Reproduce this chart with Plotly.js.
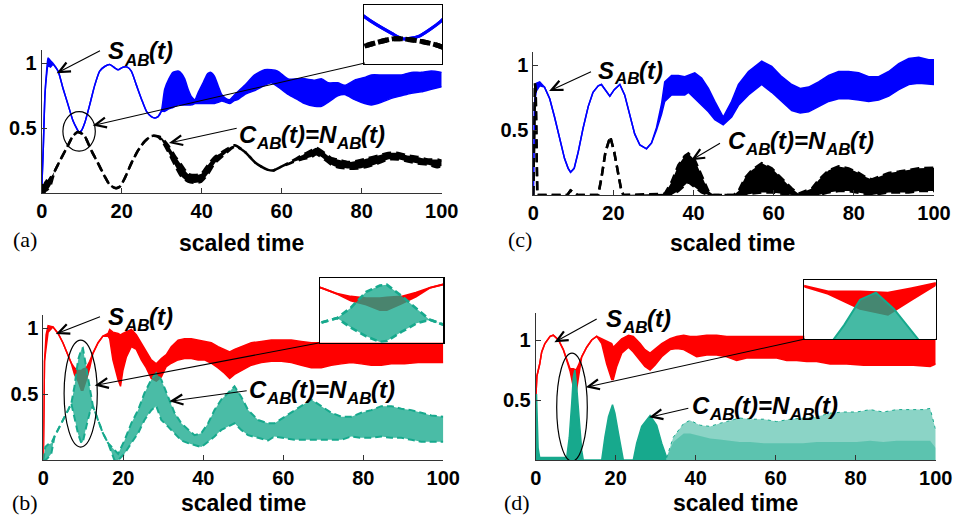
<!DOCTYPE html>
<html><head><meta charset="utf-8">
<script src="https://cdn.plot.ly/plotly-3.0.1.min.js"></script>
<style>html,body{margin:0;padding:0;background:#fff;}#chart{width:958px;height:517px;}</style>
</head><body><div id="chart"></div>
<script>
// ---------- DATA ----------
const xTicks = [0, 20, 40, 60, 80, 100];
const yTicks = [0.5, 1];
const yTickText = ['0.5', '1'];

// Panel (a): S_AB (blue) envelope (hi/lo), C_AB (black dashed) envelope
const tSa = [0,0.4,0.8,1.2,1.6,2.2,2.8,4.1,5.3,6.6,7.8,8.9,9.3,9.9,10.75,12,13.25,14.5,15.75,17,18.25,19.1,20.3,21.4,22.4,23.7,25,26.2,27.4,28.3,29.1,29.9,30.75,31.8,32.8,34.1,35,35.75,36.6,37.5,38.3,39.2,40.5,41.5,42.3,43.2,44.2,45,46,47,48,49,50.75,53.25,55.75,57.4,59,61.6,64,65.75,68.25,70,71.6,74,75.75,78.25,80.75,82.4,84.9,87.4,89.9,92.4,94.9,97.4,100];
const sAhi = [0.02,0.35,0.75,0.93,1.04,1.02,1.00,0.94,0.81,0.68,0.56,0.49,0.47,0.48,0.54,0.68,0.83,0.94,0.975,0.99,0.965,0.95,0.97,0.97,0.94,0.83,0.72,0.63,0.59,0.58,0.59,0.63,0.80,0.88,0.93,0.94,0.92,0.88,0.80,0.74,0.72,0.78,0.86,0.92,0.93,0.90,0.82,0.76,0.73,0.72,0.75,0.78,0.83,0.91,0.95,0.95,0.94,0.88,0.88,0.88,0.87,0.88,0.85,0.85,0.83,0.87,0.89,0.91,0.91,0.91,0.91,0.93,0.93,0.94,0.93];
const sAlo = [0.02,0.35,0.75,0.90,0.98,0.97,0.99,0.94,0.81,0.68,0.56,0.49,0.47,0.48,0.54,0.68,0.83,0.94,0.975,0.99,0.965,0.95,0.97,0.97,0.94,0.83,0.72,0.63,0.59,0.58,0.59,0.63,0.63,0.65,0.66,0.68,0.68,0.68,0.68,0.68,0.69,0.69,0.69,0.69,0.69,0.69,0.70,0.71,0.70,0.69,0.71,0.72,0.76,0.79,0.83,0.85,0.82,0.76,0.72,0.69,0.67,0.67,0.70,0.75,0.76,0.72,0.69,0.68,0.70,0.73,0.75,0.77,0.78,0.80,0.82];
const tCa = [0,0.5,1.0,1.5,2.2,3.25,4.9,6.6,7.8,8.9,9.3,10.0,10.75,12.4,14.1,15.75,17,18.4,19.5,20.75,22.4,24.1,25.75,27.4,28.7,29.9,31.6,33.25,34.9,36.6,38.25,39.9,41.6,43.25,45.75,48.25,50.75,53.25,54.9,56.6,57.8,59.9,62.4,64.9,67.4,68.7,70.75,72.4,74,76.6,79,81.6,84.1,86.6,89.1,91.6,94,96.6,99,100];
const cAhi = [0,0.08,0.10,0.09,0.12,0.17,0.27,0.37,0.44,0.47,0.47,0.46,0.44,0.33,0.23,0.13,0.065,0.04,0.05,0.115,0.23,0.33,0.40,0.44,0.44,0.43,0.37,0.29,0.22,0.15,0.14,0.15,0.22,0.28,0.33,0.37,0.32,0.24,0.205,0.18,0.175,0.205,0.245,0.29,0.33,0.35,0.31,0.27,0.26,0.24,0.25,0.27,0.29,0.31,0.31,0.29,0.28,0.26,0.26,0.25];
const cAlo = [0,0,0.02,0.03,0.06,0.17,0.27,0.37,0.44,0.47,0.47,0.46,0.44,0.33,0.23,0.13,0.065,0.04,0.05,0.115,0.23,0.33,0.40,0.44,0.44,0.41,0.32,0.22,0.13,0.09,0.08,0.09,0.15,0.23,0.30,0.36,0.32,0.24,0.205,0.18,0.175,0.205,0.235,0.26,0.28,0.30,0.26,0.22,0.20,0.19,0.19,0.205,0.23,0.26,0.26,0.245,0.23,0.22,0.20,0.21];

// Panel (c)
const tSc = [0,0.1,0.3,0.75,1.6,2.8,4.1,5.3,6.6,7.8,8.7,9.3,10.2,11.2,12.4,13.7,14.9,16.2,17,18,19.1,20.2,21.6,22.8,24.1,25.3,26.6,28.25,29.5,30.75,32,32.8,34.5,36.2,37.8,38.7,40.3,42,43.7,45.3,47.4,49.5,51.2,53.7,57,59.5,62,64.5,66.6,68.7,71.2,73.7,76.2,78.7,81.2,83.7,86.2,88.7,91.2,93.7,96.2,98.7,100];
const sChi = [0,0.40,0.70,0.86,0.87,0.83,0.74,0.60,0.44,0.28,0.205,0.175,0.205,0.33,0.51,0.68,0.79,0.84,0.85,0.81,0.76,0.81,0.85,0.77,0.615,0.47,0.385,0.355,0.40,0.52,0.70,0.87,0.92,0.92,0.91,0.92,0.94,0.90,0.82,0.72,0.60,0.72,0.85,0.95,1.03,0.99,0.91,0.85,0.82,0.83,0.87,0.92,0.95,0.95,0.94,0.91,0.91,0.95,1.01,1.05,1.06,1.04,1.04];
const sClo = [0,0.40,0.70,0.80,0.84,0.83,0.74,0.60,0.44,0.28,0.205,0.175,0.205,0.33,0.51,0.68,0.79,0.84,0.85,0.81,0.76,0.81,0.85,0.77,0.615,0.47,0.385,0.355,0.40,0.50,0.62,0.72,0.77,0.77,0.77,0.79,0.74,0.69,0.64,0.58,0.54,0.60,0.69,0.77,0.85,0.79,0.72,0.65,0.63,0.64,0.68,0.72,0.74,0.74,0.73,0.72,0.73,0.76,0.81,0.85,0.86,0.85,0.85];
const tCc = [0,0.2,0.4,0.6,0.8,1.0,8.5,9.3,10.2,11,16.2,17,18,19.2,20.2,21.2,22,22.5,32.8,34.5,36.2,37.8,38.7,40.3,42,43.7,45,50,51.2,52.8,54.5,57,59.5,62,64.5,66.2,67.8,69.5,71.2,73.7,76.2,78.7,81.2,82.8,84.5,86.2,88.7,91.2,93.7,96.2,100];
const cChi = [0,0.5,0.86,0.80,0.3,0,0,0.035,0.02,0,0,0.13,0.33,0.45,0.33,0.15,0.03,0,0.01,0.10,0.23,0.30,0.32,0.27,0.15,0.03,0,0,0.03,0.13,0.19,0.245,0.205,0.13,0.05,0.01,0.03,0.05,0.115,0.19,0.22,0.205,0.17,0.14,0.12,0.14,0.17,0.18,0.19,0.205,0.21];
const cClo = [0,0.5,0.86,0.80,0.3,0,0,0.035,0.02,0,0,0.13,0.33,0.45,0.33,0.15,0.03,0,0,0,0.03,0.08,0.10,0.06,0.02,0,0,0,0,0,0.01,0.02,0.02,0.01,0,0,0,0,0,0.02,0.03,0.03,0.02,0.01,0,0.01,0.02,0.02,0.02,0.03,0.03];

// Panel (b)
const tSb = [0,0.15,0.3,0.7,1.2,2.4,3.7,4.9,6.2,7.0,7.8,8.7,9.5,9.9,10.75,11.6,12.4,13.7,14.9,16.2,16.6,17.4,18.7,19.3,19.9,20.75,22,23.25,24.5,25.75,27,28.25,29.5,30.75,32,33.7,35.3,37,38.7,40.3,42,43.7,45.3,46.6,47.8,49.5,52,54.5,57,59.5,62,64.5,67,69.5,72,74.5,77,79.5,82,84.5,87,90.3,93.7,97,100];
const sBhi = [0,0.5,0.75,0.95,1.02,1.01,0.96,0.89,0.80,0.735,0.70,0.68,0.68,0.69,0.70,0.75,0.81,0.89,0.94,0.96,0.99,0.97,0.96,0.95,0.96,0.97,0.99,0.95,0.89,0.82,0.76,0.73,0.77,0.80,0.86,0.91,0.92,0.92,0.91,0.90,0.89,0.86,0.84,0.82,0.84,0.86,0.89,0.90,0.91,0.91,0.91,0.90,0.89,0.89,0.90,0.90,0.90,0.89,0.89,0.90,0.90,0.89,0.89,0.89,0.89];
const sBlo = [0,0.5,0.75,0.85,0.97,1.01,0.96,0.89,0.80,0.735,0.65,0.60,0.53,0.53,0.61,0.70,0.81,0.89,0.94,0.94,0.92,0.76,0.61,0.56,0.68,0.78,0.86,0.84,0.76,0.70,0.62,0.60,0.63,0.71,0.735,0.76,0.77,0.77,0.76,0.76,0.735,0.70,0.66,0.62,0.65,0.68,0.72,0.74,0.75,0.75,0.74,0.72,0.70,0.70,0.72,0.73,0.74,0.73,0.72,0.72,0.73,0.73,0.74,0.74,0.74];
const tCb = [0,0.5,1.2,2.0,2.8,3.7,4.9,6.2,7.0,7.8,8.7,9.5,9.9,10.75,11.6,12.4,13.7,14.9,16.2,17.8,18.7,20.3,22,23.7,25.3,27,28.25,29.5,31.2,32.8,34.5,36.2,37.8,39.5,41.2,42.8,44.5,46.2,47.8,49.5,51.2,53.7,56.2,57.8,60.3,62.8,65.3,67,69.5,72,74.5,77,79.5,82,84.5,87,89.5,92,94.5,97,100];
const cBhi = [0,0.10,0.12,0.13,0.18,0.23,0.305,0.38,0.43,0.56,0.76,0.84,0.85,0.71,0.56,0.41,0.305,0.205,0.13,0.08,0.05,0.15,0.28,0.38,0.51,0.61,0.66,0.61,0.48,0.36,0.28,0.23,0.19,0.205,0.28,0.38,0.46,0.51,0.56,0.48,0.38,0.305,0.28,0.28,0.33,0.38,0.43,0.46,0.41,0.36,0.33,0.33,0.36,0.38,0.41,0.41,0.39,0.38,0.36,0.34,0.33];
const cBlo = [0,0,0.02,0.05,0.18,0.23,0.305,0.38,0.43,0.31,0.20,0.13,0.14,0.255,0.36,0.41,0.305,0.205,0.13,0.0,0.0,0.05,0.13,0.205,0.305,0.38,0.41,0.305,0.255,0.205,0.15,0.13,0.115,0.10,0.14,0.18,0.23,0.255,0.28,0.23,0.19,0.17,0.15,0.18,0.17,0.155,0.155,0.155,0.155,0.155,0.155,0.18,0.17,0.17,0.18,0.17,0.17,0.155,0.14,0.14,0.14];

// Panel (d)
const tSd = [0,0.3,1.0,1.5,2.3,3.6,4.4,5.7,6.9,7.75,8.6,9.4,10.1,10.7,11.5,12.75,14,15.25,16.5,17.75,19,19.4,20.25,21.5,23.2,24.4,26.1,27.3,28.6,29.8,31.5,33.6,35.25,37,38.6,40.25,42.75,45.25,47.75,50.25,52.75,55.25,57.75,60.25,62.75,65.25,67.75,70.25,73.6,77.75,82,86,90.25,94.4,98.6,100];
const sDhi = [0.50,0.70,0.80,0.90,0.97,1.03,1.04,1.0,0.92,0.83,0.76,0.76,0.75,0.79,0.86,0.94,1.0,1.03,1.01,0.99,0.97,0.94,0.97,1.01,1.04,1.03,0.97,0.92,0.89,0.92,0.97,1.01,1.03,1.04,1.03,1.03,1.04,1.04,1.03,1.03,1.03,1.03,1.03,1.03,1.03,1.03,1.03,1.01,1.01,1.01,1.01,1.01,1.01,1.01,1.01,1.01];
const sDlo = [0.50,0.70,0.80,0.90,0.97,1.03,1.04,1.0,0.92,0.83,0.74,0.61,0.56,0.69,0.86,0.94,1.0,1.03,0.97,0.80,0.67,0.67,0.78,0.89,0.94,0.90,0.83,0.78,0.75,0.79,0.86,0.92,0.93,0.92,0.89,0.86,0.875,0.875,0.86,0.83,0.85,0.85,0.85,0.85,0.83,0.83,0.82,0.82,0.80,0.80,0.79,0.79,0.79,0.79,0.78,0.80];
const tCd = [0,0.2,0.6,1.0,7.75,8.4,9.0,9.4,9.8,10.25,10.9,11.5,11.9,16.5,17.3,18.2,19.2,19.8,20.7,21.5,21.9,24.4,25.25,26.5,28.6,30.25,31.5,32.75];
const cDhi = [0,0.55,0.10,0.02,0.02,0.19,0.47,0.69,0.75,0.61,0.33,0.08,0,0,0.19,0.36,0.46,0.39,0.22,0.055,0,0,0.14,0.28,0.37,0.29,0.14,0.02];
const tCdSpk = [32.75,34.4,37,38.6,41.1,43.6,46,48.6,51,53.6,57,60.25,63.6,66.9,70.25,73.6,76.9,80.25,83.6,86.9,90.25,93.6,96.9,98.6,100];
const cDspk = [0.02,0.19,0.305,0.33,0.29,0.28,0.305,0.33,0.35,0.34,0.34,0.32,0.34,0.35,0.36,0.39,0.40,0.40,0.42,0.40,0.42,0.42,0.42,0.43,0.25];
const cDdense = [0.02,0.15,0.22,0.22,0.2,0.18,0.17,0.16,0.15,0.15,0.14,0.14,0.14,0.14,0.15,0.15,0.15,0.15,0.16,0.15,0.16,0.16,0.16,0.16,0.1];

// ---------- DRAWING ----------
const W = 958, H = 517;
const px = v => v / W;
const py = v => 1 - v / H;
const BLUE = '#0000ff', RED = '#ff0000', TEAL = '#17a98d', BLACK = '#000000';
const FONT = 'Liberation Sans, Arial, sans-serif';

function band(t, hi, lo, o) {
  const line = {color: o.color, width: o.width, dash: o.dash || 'solid', shape: o.shape || 'linear', smoothing: 0.6};
  return [
    {x: t, y: hi, xaxis: o.xa, yaxis: o.ya, mode: 'lines', line: line, hoverinfo: 'skip'},
    {x: t, y: lo, xaxis: o.xa, yaxis: o.ya, mode: 'lines', line: line, hoverinfo: 'skip',
     fill: 'tonexty', fillcolor: o.fill || o.color}
  ];
}
function area(t, y, o) {
  return {x: t, y: y, xaxis: o.xa, yaxis: o.ya, mode: 'lines', hoverinfo: 'skip',
    line: {color: o.color, width: o.width, dash: o.dash || 'solid'}, fill: 'tozeroy', fillcolor: o.fill || o.color};
}

const DASHK = '9px,5px';
const DASHT = '7px,4px';
const TEALA = 'rgba(23,169,141,0.78)';
const TEALS = 'rgba(23,169,141,0.5)';
const TEALD = 'rgba(23,169,141,0.4)';

function panelA(xa, ya, k) {
  return [
    ...band(tSa, sAhi, sAlo, {xa, ya, color: BLUE, width: 1.5 * k, shape: 'spline'}),
    ...band(tCa, cAhi, cAlo, {xa, ya, color: BLACK, width: 2.5 * k, dash: DASHK, shape: 'spline'})
  ];
}
function panelB(xa, ya, k) {
  return [
    ...band(tSb, sBhi, sBlo, {xa, ya, color: RED, width: 1.5 * k}),
    ...band(tCb, cBhi, cBlo, {xa, ya, color: TEAL, width: 2 * k, dash: DASHT, fill: TEALA})
  ];
}
function panelD(xa, ya, k, alpha) {
  return [
    ...band(tSd, sDhi, sDlo, {xa, ya, color: RED, width: 1.5 * k}),
    area(tCd, cDhi, {xa, ya, color: TEAL, width: 1.5 * k, fill: alpha || TEAL}),
    area(tCdSpk, cDspk, {xa, ya, color: TEAL, width: 1 * k, dash: '3px,4px', fill: TEALS}),
    area(tCdSpk, cDdense, {xa, ya, color: 'rgba(0,0,0,0)', width: 0, fill: TEALD})
  ];
}

const traces = [
  ...panelA('x', 'y', 1),
  ...band(tSc, sChi, sClo, {xa: 'x2', ya: 'y2', color: BLUE, width: 1.5}),
  ...band(tCc, cChi, cClo, {xa: 'x2', ya: 'y2', color: BLACK, width: 2.5, dash: DASHK}),
  ...panelB('x3', 'y3', 1),
  ...panelD('x4', 'y4', 1),
  ...panelA('x5', 'y5', 2),
  ...panelB('x6', 'y6', 1.3),
  ...panelD('x7', 'y7', 1.3, 'rgba(23,169,141,0.8)')
];

const tickfont = {family: FONT, size: 20, weight: 'bold', color: '#000'};
function mainX(l, r, anchor) {
  return {domain: [px(l), px(r)], anchor: anchor, range: [0, 100], showline: true, linecolor: '#333', linewidth: 1,
    ticks: 'inside', ticklen: 5, tickwidth: 1, tickcolor: '#333', tickvals: xTicks, ticktext: xTicks.map(String),
    tickfont: tickfont, showgrid: false, zeroline: false, fixedrange: true};
}
function mainY(b, t, top, anchor) {
  return {domain: [py(b), py(t)], anchor: anchor, range: [0, top], showline: true, linecolor: '#333', linewidth: 1,
    ticks: 'inside', ticklen: 5, tickwidth: 1, tickcolor: '#333', tickvals: yTicks, ticktext: yTickText,
    tickfont: tickfont, showgrid: false, zeroline: false, fixedrange: true};
}
function insetAx(a, b, range, anchor, isY) {
  return {domain: isY ? [py(b), py(a)] : [px(a), px(b)], anchor: anchor, range: range, showline: true, mirror: true,
    linecolor: '#000', linewidth: 1.2, ticks: '', showticklabels: false, showgrid: false, zeroline: false, fixedrange: true};
}

function label(text, x, y, font, xanchor) {
  return {text: text, xref: 'paper', yref: 'paper', x: px(x), y: py(y), xanchor: xanchor || 'left', yanchor: 'middle',
    showarrow: false, font: font};
}
// Curve labels: main glyphs and subscripts drawn as separate texts (bold italic)
const MAIN = 24, SUB = 17;
const mainFont = {family: FONT, size: MAIN, weight: 'bold', style: 'italic', color: '#000'};
const subFont = {family: FONT, size: SUB, weight: 'bold', style: 'italic', color: '#000'};
const ADV = {S: 0.667, A: 0.722, B: 0.722, C: 0.722, N: 0.722, '(': 0.333, ')': 0.333, t: 0.333, '=': 0.584};
const SAB = [['S', 0], ['AB', 1], ['(t)', 0]];
const CAB = [['C', 0], ['AB', 1], ['(t)=N', 0], ['AB', 1], ['(t)', 0]];
function richLabel(parts, x, y) {
  const out = [];
  let cx = x;
  parts.forEach(([txt, isSub]) => {
    const size = isSub ? SUB : MAIN;
    out.push(label(txt, cx, isSub ? y + 9 : y, isSub ? subFont : mainFont));
    cx += [...txt].reduce((s, ch) => s + ADV[ch], 0) * size;
  });
  return out;
}
const titleFont = {family: FONT, size: 23, weight: 'bold', color: '#000'};
const panelFont = {family: 'Liberation Serif, Times New Roman, serif', size: 22, color: '#000'};

const annotations = [
  ...richLabel(SAB, 106, 51), ...richLabel(CAB, 237, 134),
  ...richLabel(SAB, 106, 316), ...richLabel(CAB, 247, 389),
  ...richLabel(SAB, 596, 70), ...richLabel(CAB, 726, 140),
  ...richLabel(SAB, 604, 318), ...richLabel(CAB, 690, 405),
  label('scaled time', 241, 243, titleFont, 'center'), label('scaled time', 732, 243, titleFont, 'center'),
  label('scaled time', 243, 503, titleFont, 'center'), label('scaled time', 735, 503, titleFont, 'center'),
  label('(a)', 25, 239, panelFont, 'center'), label('(c)', 520, 239, panelFont, 'center'),
  label('(b)', 25, 502, panelFont, 'center'), label('(d)', 517, 502, panelFont, 'center')
];

// arrows (pixel tail -> pixel tip), drawn as line shapes with an open V head
const arrowList = [
  [[100, 50.7], [59, 72]], [[236.7, 128.3], [171.5, 142.5]], [[365, 63], [95.3, 125]],
  [[100, 316.7], [58.3, 333]], [[246.7, 390.7], [172, 401]], [[320, 342.7], [97.3, 385]],
  [[591, 71.7], [551.5, 90]], [[720, 143.3], [693.3, 159]],
  [[596.7, 319], [556.7, 341]], [[688.3, 408.3], [651.7, 416.7]], [[805, 339], [588.3, 386.7]]
];
const shapes = [
  {type: 'circle', xref: 'x', yref: 'y', x0: 5.3, x1: 13.4, y0: 0.325, y1: 0.628, line: {color: '#000', width: 1.2}},
  {type: 'circle', xref: 'x3', yref: 'y3', x0: 5.2, x1: 13.5, y0: 0.10, y1: 0.91, line: {color: '#000', width: 1.2}},
  {type: 'circle', xref: 'x4', yref: 'y4', x0: 5.25, x1: 12.9, y0: -0.01, y1: 0.89, line: {color: '#000', width: 1.2}}
];
arrowList.forEach(([tail, tip]) => {
  const dx = tip[0] - tail[0], dy = tip[1] - tail[1];
  const len = Math.hypot(dx, dy), ux = dx / len, uy = dy / len;
  const L = 11, Wd = 5;
  const h1 = [tip[0] - L * ux - Wd * uy, tip[1] - L * uy + Wd * ux];
  const h2 = [tip[0] - L * ux + Wd * uy, tip[1] - L * uy - Wd * ux];
  const P = p => px(p[0]).toFixed(5) + ',' + py(p[1]).toFixed(5);
  shapes.push({type: 'path', xref: 'paper', yref: 'paper', path: 'M' + P(tail) + 'L' + P(tip), line: {color: '#000', width: 1.1}});
  shapes.push({type: 'path', xref: 'paper', yref: 'paper', path: 'M' + P(h1) + 'L' + P(tip) + 'L' + P(h2), line: {color: '#000', width: 2.2}});
});

const layout = {
  width: W, height: H, margin: {l: 0, r: 0, t: 0, b: 0}, showlegend: false,
  paper_bgcolor: '#fff', plot_bgcolor: '#fff',
  xaxis: mainX(41.7, 441.7, 'y'), yaxis: mainY(193.3, 50, 1.102, 'x'),
  xaxis2: mainX(533.3, 934, 'y2'), yaxis2: mainY(195, 52, 1.1, 'x2'),
  xaxis3: mainX(43.3, 443.3, 'y3'), yaxis3: mainY(460.3, 315, 1.10, 'x3'),
  xaxis4: mainX(535.7, 935.7, 'y4'), yaxis4: mainY(460, 313, 1.225, 'x4'),
  xaxis5: insetAx(364, 442, [7.8, 10.8], 'y5', false), yaxis5: insetAx(5, 64, [0.37, 0.605], 'x5', true),
  xaxis6: insetAx(320, 443.3, [6, 13.2], 'y6', false), yaxis6: insetAx(278.3, 342.7, [0.12, 0.93], 'x6', true),
  xaxis7: insetAx(804.3, 935.7, [8.0, 11.3], 'y7', false), yaxis7: insetAx(280, 339, [0.35, 0.86], 'x7', true),
  annotations: annotations, shapes: shapes
};

Plotly.newPlot('chart', traces, layout, {staticPlot: true, displayModeBar: false});
</script></body></html>
